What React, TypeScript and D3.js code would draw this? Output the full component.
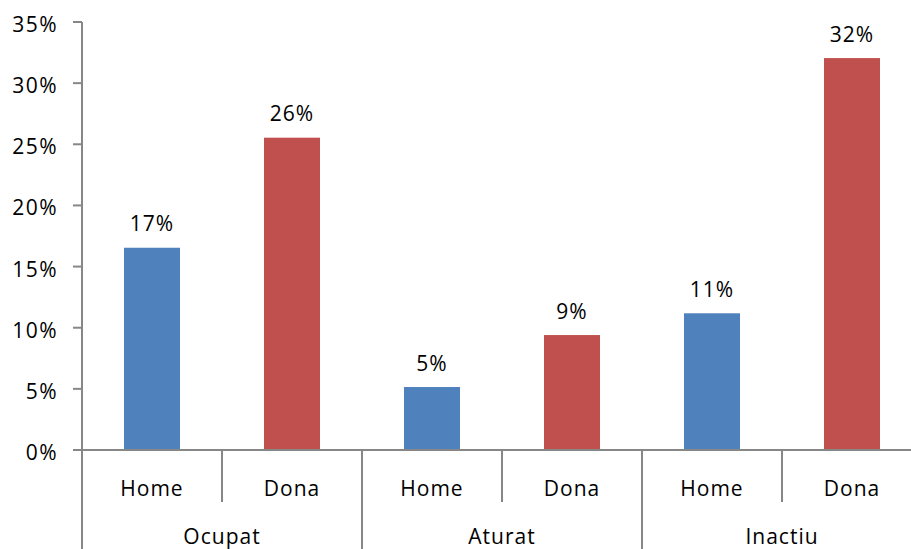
import React from "react";
import * as d3 from "d3";

const groups = ["Ocupat", "Aturat", "Inactiu"];
const subCategories = ["Home", "Dona"];
const homeValues = [0.1654, 0.0515, 0.1118];
const donaValues = [0.2554, 0.094, 0.3205];
const yTickValues = [0, 0.05, 0.1, 0.15, 0.2, 0.25, 0.3, 0.35];
const colors = ["#4F81BD", "#C0504D"];

const W = 911;
const H = 549;
const left = 82;
const right = 922;
const top = 22;
const base = 450;
const axisColor = "#878787";
const font = "'Open Sans', sans-serif";

export default function App() {
  const bars = groups.flatMap((g, gi) => [
    { key: `${g}-Home`, group: g, sub: 0, value: homeValues[gi] },
    { key: `${g}-Dona`, group: g, sub: 1, value: donaValues[gi] },
  ]);
  const x = d3
    .scaleBand<string>()
    .domain(bars.map((b) => b.key))
    .range([left, right])
    .paddingInner(0.6)
    .paddingOuter(0.3);
  const step = x.step();
  const gx = d3.scaleBand<string>().domain(groups).range([left, right]);
  const y = d3.scaleLinear().domain([0, 0.35]).range([base, top]);
  const fmt = d3.format(".0%");

  return (
    <svg
      width={W}
      height={H}
      style={{ position: "absolute", left: 0, top: 0, background: "#fff" }}
      fontFamily={font}
    >
      {/* bars */}
      {bars.map((b) => (
        <rect
          key={b.key}
          x={x(b.key)}
          y={y(b.value)}
          width={x.bandwidth()}
          height={base - y(b.value)}
          fill={colors[b.sub]}
        />
      ))}
      {/* data labels */}
      {bars.map((b) => (
        <text
          key={b.key + "-lbl"}
          x={(x(b.key) as number) + x.bandwidth() / 2}
          y={y(b.value) - 16.5}
          textAnchor="middle"
          fontSize={21}
          letterSpacing={1}
          fill="#000"
        >
          {fmt(Math.round(b.value * 100) / 100)}
        </text>
      ))}
      {/* y axis */}
      <line x1={left} x2={left} y1={top} y2={H} stroke={axisColor} strokeWidth={2} />
      {yTickValues.map((t) => (
        <g key={t}>
          <line x1={left - 9} x2={left} y1={y(t)} y2={y(t)} stroke={axisColor} strokeWidth={2} />
          <text
            x={58}
            y={y(t) + 10}
            textAnchor="end"
            fontSize={21}
            letterSpacing={1.5}
            fill="#000"
          >
            {fmt(t)}
          </text>
        </g>
      ))}
      {/* x baseline */}
      <line x1={left} x2={right} y1={base} y2={base} stroke={axisColor} strokeWidth={2} />
      {/* category dividers */}
      {bars.map((b) =>
        b.sub === 1 ? (
          <line
            key={b.key + "-div"}
            x1={(x(b.key) as number) - step * 0.3}
            x2={(x(b.key) as number) - step * 0.3}
            y1={base}
            y2={502}
            stroke={axisColor}
            strokeWidth={2}
          />
        ) : null
      )}
      {groups.map((g) => (
        <line
          key={g + "-gdiv"}
          x1={(gx(g) as number) + gx.bandwidth()}
          x2={(gx(g) as number) + gx.bandwidth()}
          y1={base}
          y2={H}
          stroke={axisColor}
          strokeWidth={2}
        />
      ))}
      {/* sub-category labels */}
      {bars.map((b) => (
        <text
          key={b.key + "-cat"}
          x={(x(b.key) as number) + x.bandwidth() / 2}
          y={496}
          textAnchor="middle"
          fontSize={21}
          letterSpacing={1}
          fill="#000"
        >
          {subCategories[b.sub]}
        </text>
      ))}
      {/* group labels */}
      {groups.map((g) => (
        <text
          key={g + "-glbl"}
          x={(gx(g) as number) + gx.bandwidth() / 2}
          y={544}
          textAnchor="middle"
          fontSize={21}
          letterSpacing={1}
          fill="#000"
        >
          {g}
        </text>
      ))}
    </svg>
  );
}
